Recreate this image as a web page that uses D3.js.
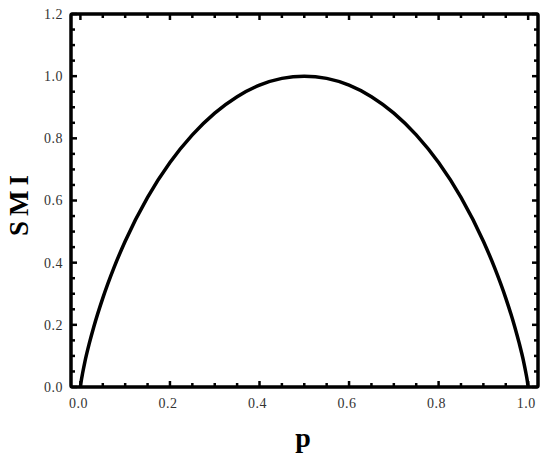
<!DOCTYPE html>
<meta charset="utf-8">
<body style="margin:0;background:#fff">
<style>
text { font-family: "Liberation Serif", "Times New Roman", serif; }
.tick-label { font-size: 14px; fill: #333; letter-spacing: 0.5px; }
.frame { fill: none; stroke: #000; stroke-width: 3.5px; }
.tick { stroke: #000; stroke-width: 2.5px; }
.curve { fill: none; stroke: #000; stroke-width: 3.5px; }
</style>
<script src="https://cdn.jsdelivr.net/npm/d3@7"></script>
<script>

// values
var pValues = [0, 0.002, 0.005, 0.01, 0.02, 0.03, 0.05, 0.075, 0.1, 0.15, 0.2, 0.25, 0.3, 0.35, 0.4, 0.45, 0.5,
               0.55, 0.6, 0.65, 0.7, 0.75, 0.8, 0.85, 0.9, 0.925, 0.95, 0.97, 0.98, 0.99, 0.995, 0.998, 1];
var smiValues = [0, 0.021, 0.045, 0.081, 0.141, 0.194, 0.286, 0.384, 0.469, 0.610, 0.722, 0.811, 0.881, 0.934, 0.971, 0.993, 1.0,
                 0.993, 0.971, 0.934, 0.881, 0.811, 0.722, 0.610, 0.469, 0.384, 0.286, 0.194, 0.141, 0.081, 0.045, 0.021, 0];
var xTickLabels = ["0.0", "0.2", "0.4", "0.6", "0.8", "1.0"];
var yTickLabels = ["0.0", "0.2", "0.4", "0.6", "0.8", "1.0", "1.2"];

var width = 550, height = 462;

var svg = d3.select("body").append("svg")
    .attr("width", width)
    .attr("height", height);

var x = d3.scaleLinear().domain([-0.021, 1.022]).range([71, 538]);
var y = d3.scaleLinear().domain([0, 1.2]).range([387, 14]);

var majorX = xTickLabels.map(Number);
var majorY = yTickLabels.map(Number);
var minorX = d3.range(0, 1.0001, 0.05).filter(function(v) { return Math.abs(v * 5 - Math.round(v * 5)) > 1e-6; });
var minorY = d3.range(0, 1.2001, 0.05).filter(function(v) { return Math.abs(v * 5 - Math.round(v * 5)) > 1e-6; });

var x0 = x.range()[0], x1 = x.range()[1], y0 = y.range()[0], y1 = y.range()[1];

// inward ticks on all four sides
function drawTicks(vals, len) {
  svg.selectAll(null).data(vals).enter().append("line").attr("class", "tick")
    .attr("x1", function(d) { return x(d); }).attr("x2", function(d) { return x(d); })
    .attr("y1", y0).attr("y2", y0 - len);
  svg.selectAll(null).data(vals).enter().append("line").attr("class", "tick")
    .attr("x1", function(d) { return x(d); }).attr("x2", function(d) { return x(d); })
    .attr("y1", y1).attr("y2", y1 + len);
}
function drawYTicks(vals, len) {
  svg.selectAll(null).data(vals).enter().append("line").attr("class", "tick")
    .attr("y1", function(d) { return y(d); }).attr("y2", function(d) { return y(d); })
    .attr("x1", x0).attr("x2", x0 + len);
  svg.selectAll(null).data(vals).enter().append("line").attr("class", "tick")
    .attr("y1", function(d) { return y(d); }).attr("y2", function(d) { return y(d); })
    .attr("x1", x1).attr("x2", x1 - len);
}
drawTicks(majorX, 6);
drawTicks(minorX, 4);
drawYTicks(majorY, 6);
drawYTicks(minorY, 4);

svg.append("rect").attr("class", "frame")
    .attr("x", x0).attr("y", y1)
    .attr("width", x1 - x0).attr("height", y0 - y1)
    .attr("rx", 1.5);

// tick labels
svg.selectAll(".xl").data(xTickLabels).enter().append("text")
    .attr("class", "tick-label")
    .attr("x", function(d) { return x(+d) - 2; })
    .attr("y", 408)
    .attr("text-anchor", "middle")
    .text(function(d) { return d; });

svg.selectAll(".yl").data(yTickLabels).enter().append("text")
    .attr("class", "tick-label")
    .attr("x", 63)
    .attr("y", function(d) { return y(+d); })
    .attr("dy", "0.35em")
    .attr("text-anchor", "end")
    .text(function(d) { return d; });

// the curve
var pts = d3.zip(pValues, smiValues);
svg.append("path")
    .datum(pts)
    .attr("class", "curve")
    .attr("d", d3.line()
      .x(function(d) { return x(d[0]); })
      .y(function(d) { return y(d[1]); })
      .curve(d3.curveMonotoneX));

// axis titles
svg.append("text")
    .attr("x", 303)
    .attr("y", 447)
    .attr("text-anchor", "middle")
    .style("font-size", "28px")
    .style("font-weight", "bold")
    .text("p");

svg.append("text")
    .attr("transform", "translate(28,203) rotate(-90)")
    .attr("text-anchor", "middle")
    .style("font-size", "27px")
    .style("font-weight", "bold")
    .style("letter-spacing", "5px")
    .text("SMI");

</script>
